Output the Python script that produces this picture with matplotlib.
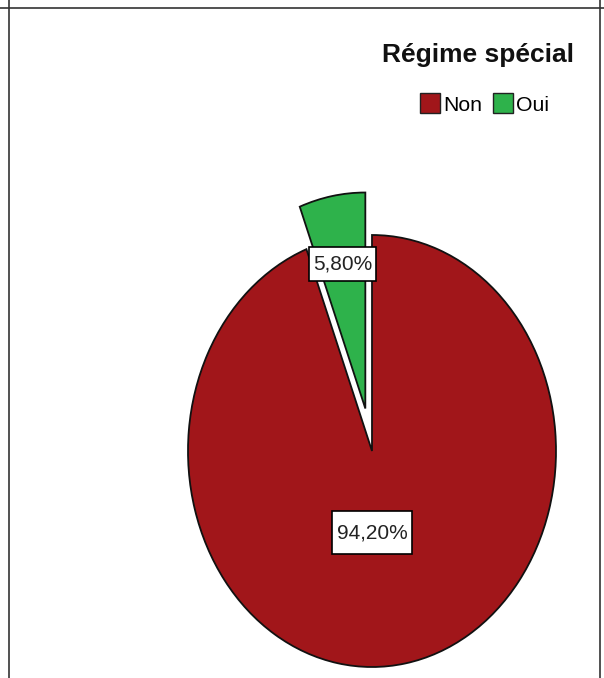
import matplotlib
matplotlib.use("Agg")
import matplotlib.pyplot as plt
from matplotlib.lines import Line2D
from matplotlib.patches import Patch
from matplotlib.path import Path
import numpy as np

# Répartition des répondants selon le régime spécial
categories = ["Non", "Oui"]
percentages = [94.20, 5.80]
colors = ["#A1161A", "#2EB24B"]
title = "Régime spécial"

W, H = 604, 678
fig = plt.figure(figsize=(W / 100, H / 100), dpi=100)

# Pie axes stretched vertically (ellipse), placed in pixel coordinates
left, right = 188, 556
top, bottom = 235, 667
ax = fig.add_axes([left / W, (H - bottom) / H, (right - left) / W, (bottom - top) / H])

explode = [0.0, 0.20]
wedges, texts = ax.pie(
    percentages,
    colors=colors,
    startangle=90,
    counterclock=False,
    explode=explode,
    wedgeprops=dict(edgecolor="#111111", linewidth=1.3),
)
for w in wedges:
    w.set_clip_on(False)
ax.set_aspect("auto")
ax.set_xlim(-1, 1)
ax.set_ylim(-1, 1)
ax.axis("off")


def rect_box(pad_x, pad_y):
    """Rectangular label box with separate horizontal / vertical padding."""
    def style(x0, y0, width, height, mutation_size):
        px, py = pad_x * mutation_size, pad_y * mutation_size
        x0, y0 = x0 - px, y0 - py
        x1, y1 = x0 + width + 2 * px, y0 + height + 2 * py
        return Path([(x0, y0), (x1, y0), (x1, y1), (x0, y1), (x0, y0)],
                    [Path.MOVETO, Path.LINETO, Path.LINETO, Path.LINETO, Path.CLOSEPOLY])
    return style


# Percentage labels in boxed text placed along each wedge's bisector
label_radius = [0.385, 0.88]
label_pady = [0.58, 0.38]
for w, pct, r, py in zip(wedges, percentages, label_radius, label_pady):
    mid = np.deg2rad((w.theta1 + w.theta2) / 2)
    x, y = r * np.cos(mid), r * np.sin(mid)
    if pct > 50:
        x = 0.0
    ax.text(x, y, f"{pct:.2f}%".replace(".", ","), ha="center", va="center",
            fontsize=15, family=["Liberation Sans", "DejaVu Sans"],
            color="#222222",
            bbox=dict(boxstyle=rect_box(0.2, py), facecolor="white",
                      edgecolor="black", linewidth=1.2))

# Title
fig.text(574 / W, 1 - 62 / H, title, ha="right", va="baseline", fontsize=19,
         fontweight="bold", family=["Liberation Sans", "DejaVu Sans"], color="#111111")

# Legend
handles = [Patch(facecolor=c, edgecolor="#222222", linewidth=1.0, label=l)
           for c, l in zip(colors, categories)]
fig.legend(handles=handles, loc="center right", bbox_to_anchor=(549 / W, 1 - 104 / H),
           ncol=2, frameon=False, handlelength=0.95, handleheight=1.05,
           handletextpad=0.15, columnspacing=0.5, borderpad=0, borderaxespad=0,
           prop=dict(family=["Liberation Sans", "DejaVu Sans"], size=15.3))

# Frame lines
def vline(x):
    fig.add_artist(Line2D([x / W, x / W], [0, 1], color="#333333", linewidth=1.2))

def hline(y):
    fig.add_artist(Line2D([0, 1], [1 - y / H, 1 - y / H], color="#333333", linewidth=1.2))

vline(8.5)
vline(600)
hline(7.5)

fig.savefig("out.png", dpi=100)
